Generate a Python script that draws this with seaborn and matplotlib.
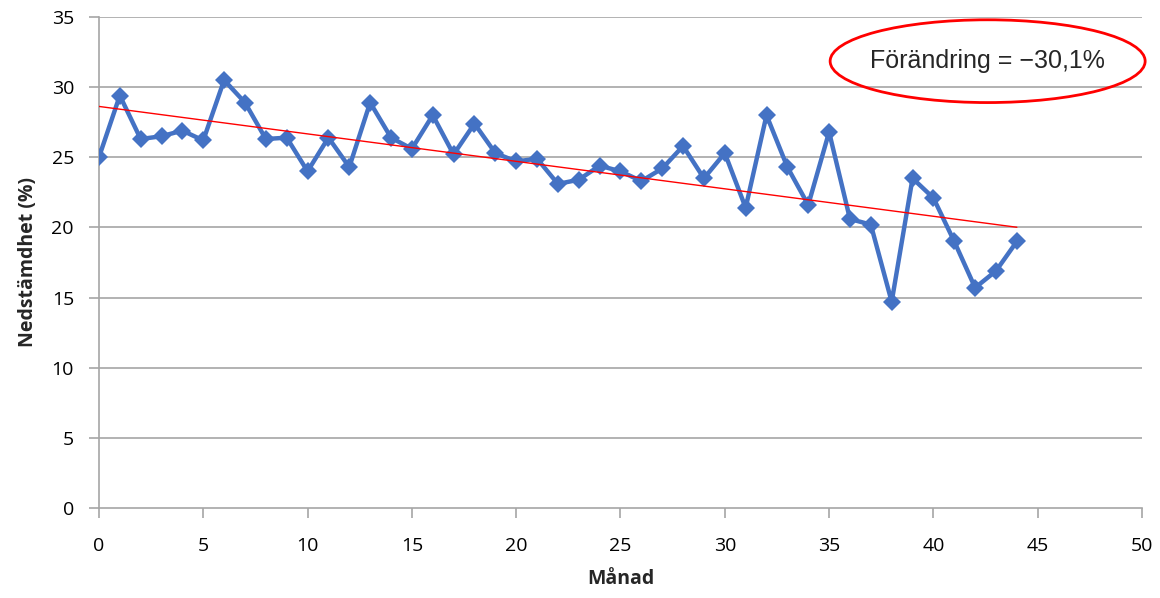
import numpy as np
import pandas as pd
import seaborn as sns
import matplotlib.pyplot as plt
from matplotlib.patches import Ellipse

# data
manad = list(range(45))
nedstamdhet = [25.0, 29.4, 26.3, 26.5, 26.9, 26.2, 30.5, 28.9, 26.3, 26.4,
               24.0, 26.4, 24.3, 28.9, 26.4, 25.6, 28.0, 25.2, 27.4, 25.3,
               24.7, 24.9, 23.1, 23.4, 24.4, 24.0, 23.3, 24.2, 25.8, 23.5,
               25.3, 21.4, 28.0, 24.3, 21.6, 26.8, 20.6, 20.2, 14.7, 23.5,
               22.1, 19.0, 15.7, 16.9, 19.0]
x_ticks = [0, 5, 10, 15, 20, 25, 30, 35, 40, 45, 50]
y_ticks = [0, 5, 10, 15, 20, 25, 30, 35]
label_text = "Förändring = \u221230,1%"

df = pd.DataFrame({"Månad": manad, "Nedstämdhet": nedstamdhet})

sns.set_style("white")
plt.rcParams["font.family"] = ["Open Sans", "DejaVu Sans"]

fig, ax = plt.subplots(figsize=(11.6, 5.98), dpi=100)
fig.subplots_adjust(left=0.0853, right=0.9845, top=0.9716, bottom=0.1505)

# grid lines
for yt in y_ticks[1:]:
    ax.axhline(yt, color="#a6a6a6", lw=1.2, zorder=0)

sns.lineplot(data=df, x="Månad", y="Nedstämdhet", ax=ax, color="#4472C4",
             lw=3.2, marker="D", markersize=9, markeredgewidth=0, zorder=3)

# linear trendline (like Excel's)
sns.regplot(data=df, x="Månad", y="Nedstämdhet", ax=ax, scatter=False, ci=None,
            truncate=True, line_kws={"color": "#ff0000", "lw": 1.0, "zorder": 4})

ax.set_xlim(0, 50)
ax.set_ylim(0, 35)
ax.set_xticks(x_ticks)
ax.set_yticks(y_ticks)
ax.tick_params(axis="both", labelsize=14, colors="#000000", width=1.2,
               direction="out", color="#a6a6a6", bottom=True, left=True)
ax.tick_params(axis="x", length=7, pad=14)
ax.tick_params(axis="y", length=7, pad=11)
for s in ["top", "right"]:
    ax.spines[s].set_visible(False)
for s in ["left", "bottom"]:
    ax.spines[s].set_color("#a6a6a6")
    ax.spines[s].set_linewidth(1.2)

ax.set_xlabel("Månad", fontsize=14, fontweight="bold", labelpad=10)
ax.set_ylabel("Nedstämdhet (%)", fontsize=14, fontweight="bold", labelpad=10)

# annotation box
ell = Ellipse((42.6, 31.85), 15.1, 5.9, fill=False, edgecolor="#ff0000",
              lw=2.0, clip_on=False, zorder=5)
ax.add_patch(ell)
ax.text(42.6, 31.85, label_text, ha="center", va="center", fontsize=18,
        fontfamily="Liberation Sans", zorder=6)

fig.savefig("out.png", dpi=100)
